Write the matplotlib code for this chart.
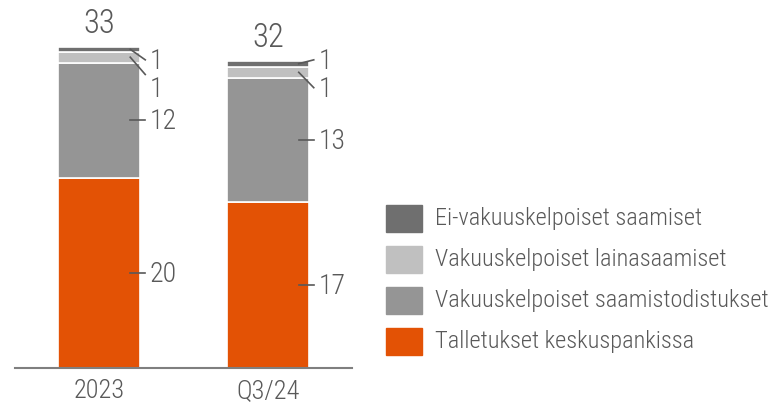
import numpy as np
import matplotlib.pyplot as plt
from matplotlib.patches import Rectangle

# data (mrd. euroa)
categories = ["2023", "Q3/24"]
talletukset = [19.8, 17.3]
saamistodistukset = [12.0, 12.9]
lainasaamiset = [1.15, 1.2]
ei_vakuuskelpoiset = [0.5, 0.6]
totals = [33, 32]

# shown labels (rounded as in the original)
lbl_talletukset = ["20", "17"]
lbl_saamistodistukset = ["12", "13"]
lbl_lainasaamiset = ["1", "1"]
lbl_ei_vakuus = ["1", "1"]

legend_labels = ["Ei-vakuuskelpoiset saamiset", "Vakuuskelpoiset lainasaamiset",
                 "Vakuuskelpoiset saamistodistukset", "Talletukset keskuspankissa"]

c_orange = "#E35205"
c_mid = "#959595"
c_light = "#C0C0C0"
c_dark = "#6F6F6F"
c_text = "#595959"

plt.rcParams['font.family'] = ['Roboto Condensed', 'DejaVu Sans']
plt.rcParams['font.weight'] = 'light'

fig = plt.figure(figsize=(7.76, 4.03), dpi=100)
W, H = 776, 403
ax = fig.add_axes([15 / W, 35 / H, 337 / W, 345.6 / H])
ax.set_xlim(-0.5, 1.5)
ax.set_ylim(0, 36)

x = np.arange(len(categories))
width = 0.487
series = [talletukset, saamistodistukset, lainasaamiset, ei_vakuuskelpoiset]
colors = [c_orange, c_mid, c_light, c_dark]
labels = [lbl_talletukset, lbl_saamistodistukset, lbl_lainasaamiset, lbl_ei_vakuus]

bottom = np.zeros(len(categories))
mids = []
for vals, col in zip(series, colors):
    vals = np.array(vals)
    ax.bar(x, vals, width, bottom=bottom, color=col, edgecolor="white", linewidth=1.2)
    mids.append(bottom + vals / 2)
    bottom = bottom + vals

# label layout: label dy and leader end dy in data units, per series per bar
label_dy = [[-0.15, -0.15], [-0.15, -0.15], [-3.4, -1.8], [-1.3, 0.2]]
end_dy = [[0, 0], [0, 0], [-1.8, -1.6], [-1.1, 0.4]]

x0, x1, xt = 0.184, 0.273, 0.30
for s in range(len(series)):
    for i in range(len(categories)):
        m = mids[s][i]
        ax.plot([x[i] + x0, x[i] + x1], [m, m + end_dy[s][i]], color=c_text, lw=1.2)
        ax.text(x[i] + xt, m + label_dy[s][i], labels[s][i], fontsize=20,
                color=c_text, va="center", ha="left")

for i in range(len(categories)):
    ax.annotate(str(totals[i]), (x[i], bottom[i]), xytext=(0, 5),
                textcoords="offset points", ha="center", va="bottom",
                fontsize=23.5, color=c_text)

ax.set_xticks(x)
ax.set_xticklabels(categories, fontsize=19, color=c_text)
ax.tick_params(axis="x", length=0, pad=8)
ax.set_yticks([])
for sp in ["top", "right", "left"]:
    ax.spines[sp].set_visible(False)
ax.spines["bottom"].set_color("#7F7F7F")
ax.spines["bottom"].set_linewidth(1.5)

# legend drawn by hand
leg_colors = [c_dark, c_light, c_mid, c_orange]
for k, (lab, col) in enumerate(zip(legend_labels, leg_colors)):
    yc = 218 + k * 41.3
    fig.patches.append(Rectangle((386 / W, (H - yc - 13.5) / H), 36 / W, 27 / H,
                                 transform=fig.transFigure, color=col))
    fig.text(435 / W, (H - yc) / H, lab, fontsize=17.6, color=c_text,
             va="center", ha="left")

fig.savefig("out.png", dpi=100)
